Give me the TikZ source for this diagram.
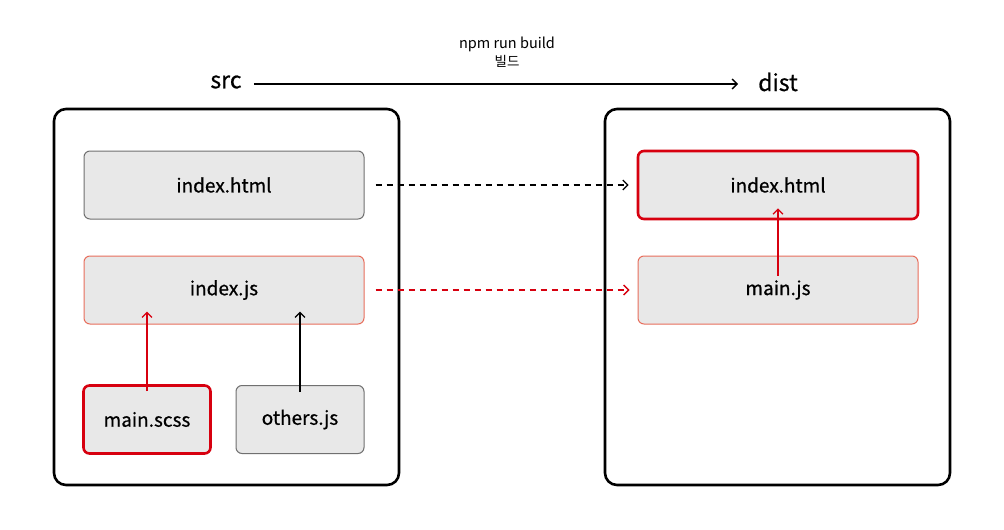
\documentclass[tikz,border=0pt]{standalone}
\usepackage{fontspec}
\setmainfont{Noto Sans CJK KR}
\newfontfamily\labelfont[RawFeature={embolden=0.7}]{Noto Sans CJK KR}
\usetikzlibrary{arrows.meta}

\definecolor{boxfill}{RGB}{232,232,232}
\definecolor{boxgray}{RGB}{112,112,112}
\definecolor{buildred}{RGB}{215,0,15}
\definecolor{softred}{RGB}{232,110,92}

\tikzset{every picture/.style={line width=0.75pt}}
\tikzset{
  folder/.style={draw=black, line width=2.6pt, rounded corners=12pt, minimum width=345pt, minimum height=376pt, inner sep=0pt},
  filebox/.style={fill=boxfill, draw=boxgray, line width=1pt, rounded corners=6pt, minimum height=68pt, inner sep=0pt, font=\labelfont\fontsize{19}{22}\selectfont},
  keyfile/.style={filebox, draw=buildred, line width=2.6pt},
  linkfile/.style={filebox, draw=softred},
  dirlabel/.style={inner sep=0pt, font=\labelfont\fontsize{23}{26}\selectfont},
  tip/.style={-{Straight Barb[length=5pt,width=10pt,line width=1.3pt]}, line width=1.4pt},
}

\begin{document}
\begin{tikzpicture}[x=1pt,y=1pt,yscale=-1]
\useasboundingbox[fill=white] (0,0) rectangle (1004,530);

% Text Node
\node (buildcmd) at (507,44) [inner sep=0pt, font=\fontsize{14.5}{16}\selectfont] {npm run build};
% Text Node
\node (buildko) at (507,61) [inner sep=0pt, font=\fontsize{13.5}{15}\selectfont] {빌드};
% Text Node
\node (src) at (226,82) [dirlabel] {src};
% Text Node
\node (dist) at (778,82) [dirlabel] {dist};
%Straight Lines
\draw [tip] (src.east) ++(12,2) coordinate (srcend) (srcend) -- (738,84) coordinate (distend);

%Shape: Rectangle
\node (srcdir) at (226.5,297) [folder] {};
%Shape: Rectangle
\node (distdir) at (777.5,297) [folder] {};

%Shape: Rectangle
\node (srchtml) at (224,185) [filebox, minimum width=280pt] {index.html};
%Shape: Rectangle
\node (srcjs) at (224,290) [linkfile, minimum width=280pt] {index.js};
%Shape: Rectangle
\node (scss) at (147,419.5) [keyfile, minimum width=127pt] {main.scss};
%Shape: Rectangle
\node (others) at (300,419.5) [filebox, minimum width=128pt] {others.js};

%Shape: Rectangle
\node (disthtml) at (778,185) [keyfile, minimum width=280pt] {index.html};
%Shape: Rectangle
\node (distjs) at (778,290) [linkfile, minimum width=280pt] {main.js};

%Straight Lines
\draw [tip, buildred, shorten <=-7pt, shorten >=-13pt] (scss.north) -- (srcjs.south -| scss.north);
\draw [tip, black, shorten <=-7pt, shorten >=-13pt] (others.north) -- (srcjs.south -| others.north);
\draw [tip, buildred, shorten <=-20pt, shorten >=-12pt] (distjs.north) -- (disthtml.south);

%Dashed Lines
\draw [tip, black, dash pattern=on 6pt off 5pt, shorten <=11pt, shorten >=8pt] (srchtml.east) -- (disthtml.west);
\draw [tip, buildred, dash pattern=on 6pt off 5pt, shorten <=11pt, shorten >=8pt] (srcjs.east) -- (distjs.west);

\end{tikzpicture}
\end{document}
